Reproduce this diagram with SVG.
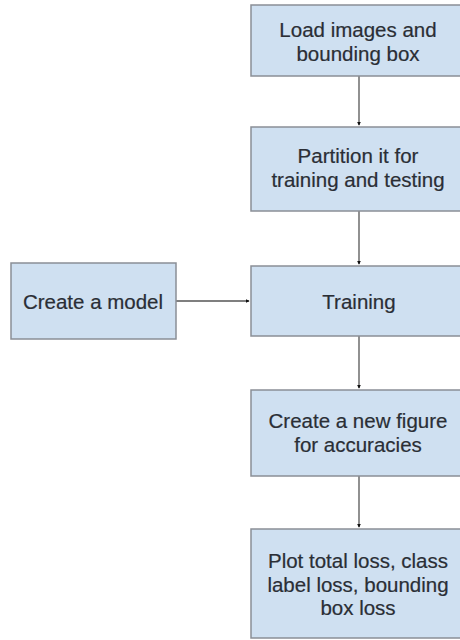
<svg xmlns="http://www.w3.org/2000/svg" width="460" height="640" viewBox="0 0 460 640">
  <defs>
    <style>
      .box { fill: #cfe0f1; stroke: #8a8f96; stroke-width: 1.5; }
      .lbl { font-family: "Liberation Sans", Arial, sans-serif; font-size: 20.5px; fill: #2a2e35; text-anchor: middle; stroke: #2a2e35; stroke-width: 0.2; }
      .edge { stroke: #555; stroke-width: 1.3; fill: none; marker-end: url(#tip); }
    </style>
    <marker id="tip" viewBox="0 0 6 6" refX="5" refY="3" markerWidth="4" markerHeight="4" orient="auto" markerUnits="userSpaceOnUse">
      <path d="M0,0 L6,3 L0,6 Z" fill="#111"/>
    </marker>
  </defs>
  <rect width="460" height="640" fill="#ffffff"/>

  <g id="connectors">
    <line class="edge" x1="359" y1="76" x2="359" y2="125"/>
    <line class="edge" x1="359" y1="211" x2="359" y2="264"/>
    <line class="edge" x1="176" y1="301" x2="249" y2="301"/>
    <line class="edge" x1="359" y1="336" x2="359" y2="388"/>
    <line class="edge" x1="359" y1="476" x2="359" y2="527"/>
  </g>

  <g id="load">
    <rect class="box" x="251" y="5" width="210" height="71"/>
    <text class="lbl" x="358" y="37">Load images and</text>
    <text class="lbl" x="358" y="61">bounding box</text>
  </g>

  <g id="partition">
    <rect class="box" x="251" y="127" width="210" height="84"/>
    <text class="lbl" x="358" y="163">Partition it for</text>
    <text class="lbl" x="358" y="187">training and testing</text>
  </g>

  <g id="model">
    <rect class="box" x="11" y="263" width="165" height="76"/>
    <text class="lbl" x="93" y="309">Create a model</text>
  </g>

  <g id="training">
    <rect class="box" x="251" y="266" width="210" height="70"/>
    <text class="lbl" x="359" y="309">Training</text>
  </g>

  <g id="figure">
    <rect class="box" x="251" y="390" width="210" height="86"/>
    <text class="lbl" x="358" y="428">Create a new figure</text>
    <text class="lbl" x="358" y="452">for accuracies</text>
  </g>

  <g id="plot">
    <rect class="box" x="251" y="529" width="210" height="109"/>
    <text class="lbl" x="358" y="568">Plot total loss, class</text>
    <text class="lbl" x="358" y="592">label loss, bounding</text>
    <text class="lbl" x="358" y="615">box loss</text>
  </g>
</svg>
